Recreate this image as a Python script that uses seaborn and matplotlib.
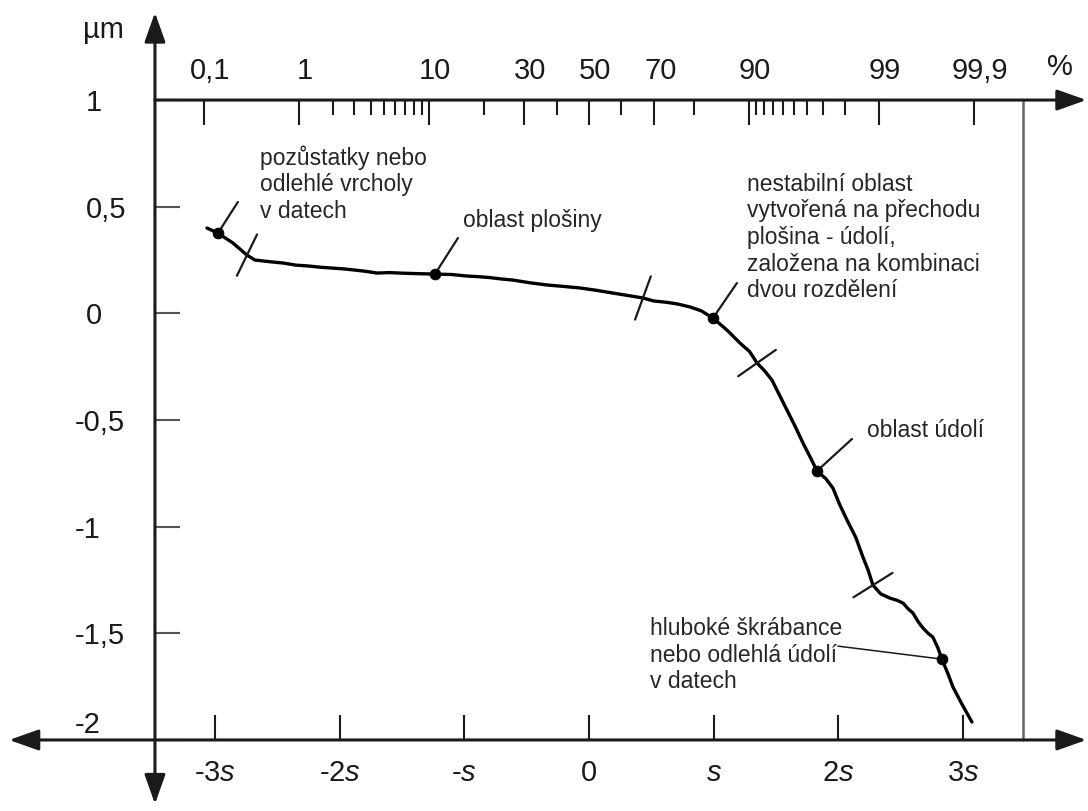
import numpy as np
import matplotlib
matplotlib.use("Agg")
import matplotlib.pyplot as plt
import matplotlib.transforms as mtransforms
import seaborn as sns
from statistics import NormalDist

# Křivka materiálového podílu: x v násobcích s, y v µm
krivka_x = [-3.064, -2.976, -2.856, -2.743, -2.679, -2.560, -2.454, -2.350, -2.250, -2.150,
            -2.053, -1.960, -1.880, -1.790, -1.700, -1.600, -1.480, -1.360, -1.235, -1.100,
            -0.979, -0.890, -0.800, -0.700, -0.610, -0.470, -0.337, -0.200, -0.072, 0.060,
            0.193, 0.320, 0.433, 0.520, 0.620, 0.710, 0.810, 0.900, 0.995, 1.110,
            1.211, 1.290, 1.348, 1.410, 1.468, 1.530, 1.588, 1.650, 1.717, 1.780,
            1.829, 1.900, 1.957, 2.010, 2.070, 2.140, 2.198, 2.240, 2.278, 2.340,
            2.414, 2.470, 2.519, 2.560, 2.599, 2.640, 2.679, 2.720, 2.759, 2.800,
            2.831, 2.880, 2.920, 2.990, 3.072]
krivka_y = [0.400, 0.376, 0.330, 0.273, 0.250, 0.242, 0.236, 0.226, 0.222, 0.216,
            0.212, 0.208, 0.203, 0.197, 0.189, 0.191, 0.188, 0.186, 0.184, 0.182,
            0.175, 0.172, 0.168, 0.161, 0.156, 0.143, 0.133, 0.126, 0.119, 0.108,
            0.095, 0.083, 0.072, 0.058, 0.052, 0.044, 0.030, 0.012, -0.022, -0.080,
            -0.139, -0.180, -0.233, -0.270, -0.313, -0.385, -0.453, -0.525, -0.608, -0.680,
            -0.739, -0.775, -0.819, -0.895, -0.969, -1.050, -1.143, -1.205, -1.274, -1.315,
            -1.335, -1.345, -1.358, -1.385, -1.405, -1.445, -1.475, -1.500, -1.518, -1.570,
            -1.621, -1.690, -1.752, -1.830, -1.916]

# Vyznačené body na křivce
body_x = [-2.976, -1.235, 0.995, 1.829, 2.831]
body_y = [0.376, 0.184, -0.022, -0.739, -1.621]

# Hranice oblastí (krátké příčné čárky)
hranice_x = [-2.743, 0.433, 1.348, 2.278]
hranice_uhel = [64, 70, 35, 32]

# Popisky (y = účaří posledního řádku) a konce odkazových čar
popisky = ["pozůstatky nebo\nodlehlé vrcholy\nv datech",
           "oblast plošiny",
           "nestabilní oblast\nvytvořená na přechodu\nplošina - údolí,\nzaložena na kombinaci\ndvou rozdělení",
           "oblast údolí",
           "hluboké škrábance\nnebo odlehlá údolí\nv datech"]
popisky_x = [-2.639, -1.011, 1.267, 2.230, 0.489]
popisky_y = [0.447, 0.405, 0.076, -0.580, -1.757]
odkaz_x = [-2.816, -1.051, 1.187, 2.110, 1.997]
odkaz_y = [0.522, 0.353, 0.142, -0.589, -1.560]

# Osy
y_ticks = [1, 0.5, 0, -0.5, -1, -1.5, -2]
y_labels = ["1", "0,5", "0", "-0,5", "-1", "-1,5", "-2"]
x_ticks = [-3, -2, -1, 0, 1, 2, 3]
x_labels = ["-3$s$", "-2$s$", "-$s$", "0", "$s$", "2$s$", "3$s$"]
pct_major = [0.1, 1, 10, 30, 50, 70, 90, 99, 99.9]
pct_labels = ["0,1", "1", "10", "30", "50", "70", "90", "99", "99,9"]
pct_minor = [2, 3, 4, 5, 6, 7, 8, 9, 20, 40, 60, 80, 91, 92, 93, 94, 95, 96, 97, 98]

sns.set_theme(style="ticks")
plt.rcParams["font.family"] = ["Liberation Sans", "DejaVu Sans"]
plt.rcParams["mathtext.fontset"] = "custom"
plt.rcParams["mathtext.rm"] = "Liberation Sans"
plt.rcParams["mathtext.it"] = "Liberation Sans:italic"

barva = "#1a1a1a"
vel = 21
fig = plt.figure(figsize=(10.88, 8.11), dpi=100)
ax = fig.add_axes([0, 0, 1, 1])
ax.set_xlim(-4.724, 4.003)
ax.set_ylim(-2.333, 1.469)
for s in ax.spines.values():
    s.set_visible(False)

x_osa = -3.481
ax.spines["left"].set_position(("data", x_osa))
ax.spines["bottom"].set_position(("data", -2))

ax.set_xticks(x_ticks)
ax.set_xticklabels(x_labels)
ax.set_yticks(y_ticks)
ax.set_yticklabels(y_labels)
ax.tick_params(axis="x", direction="in", length=18, width=1.5, color=barva,
               labelsize=vel, labelcolor=barva, pad=14, top=False, bottom=True)
ax.tick_params(axis="y", direction="in", length=18, width=1.5, color="#555555",
               labelsize=vel, labelcolor=barva, pad=50, left=True, right=False)
for lab, txt in zip(ax.get_yticklabels(), y_labels):
    lab.set_horizontalalignment("left")
    dx = -0.11 if txt.startswith("-") else 0.0
    dy = 0.18 if txt == "-2" else 0.0
    lab.set_transform(lab.get_transform()
                      + mtransforms.ScaledTranslation(dx, dy, fig.dpi_scale_trans))

# horní pravděpodobnostní osa
nd = NormalDist()
ax2 = ax.twiny()
ax2.set_xlim(ax.get_xlim())
for s in ax2.spines.values():
    s.set_visible(False)
ax2.spines["top"].set_position(("data", 1))
ax2.set_xticks([nd.inv_cdf(p / 100) for p in pct_major])
ax2.set_xticklabels(pct_labels)
ax2.set_xticks([nd.inv_cdf(p / 100) for p in pct_minor], minor=True)
ax2.tick_params(axis="x", which="major", direction="in", length=18, width=1.5,
                color=barva, labelsize=vel, labelcolor=barva, pad=11)
ax2.tick_params(axis="x", which="minor", direction="in", length=11, width=1.5, color=barva)
ax2.tick_params(axis="y", left=False, right=False, labelleft=False, labelright=False)
for lab in ax2.get_xticklabels():
    lab.set_transform(lab.get_transform()
                      + mtransforms.ScaledTranslation(0.06, 0, fig.dpi_scale_trans))

# čáry os se šipkami
sipka_styl = dict(color=barva, lw=2.2, shrinkA=0, shrinkB=0, mutation_scale=20)
ax.annotate("", xy=(3.99, -2), xytext=(-4.65, -2), annotation_clip=False,
            arrowprops=dict(arrowstyle="<|-|>,head_length=0.9,head_width=0.32", **sipka_styl))
ax.annotate("", xy=(x_osa, 1.41), xytext=(x_osa, -2.30), annotation_clip=False,
            arrowprops=dict(arrowstyle="<|-|>,head_length=0.9,head_width=0.32", **sipka_styl))
ax.annotate("", xy=(3.99, 1), xytext=(x_osa, 1), annotation_clip=False,
            arrowprops=dict(arrowstyle="-|>,head_length=0.9,head_width=0.32", **sipka_styl))
ax.plot([3.481, 3.481], [-2, 1], color="#666666", lw=1.8)

ax.text(0.095, 0.963, "µm", transform=ax.transAxes, fontsize=vel, color=barva,
        ha="center", va="center")
ax.text(0.974, 0.918, "%", transform=ax.transAxes, fontsize=vel, color=barva,
        ha="center", va="center")

# křivka
sns.lineplot(x=krivka_x, y=krivka_y, sort=False, estimator=None, color="black",
             lw=2.4, ax=ax)

# příčné čárky na hranicích oblastí
for hx, uhel in zip(hranice_x, hranice_uhel):
    hy = np.interp(hx, krivka_x, krivka_y)
    cx, cy = ax.transData.transform((hx, hy))
    dx = 23 * np.cos(np.radians(uhel))
    dy = 23 * np.sin(np.radians(uhel))
    konce = ax.transData.inverted().transform([(cx - dx, cy - dy), (cx + dx, cy + dy)])
    ax.plot(konce[:, 0], konce[:, 1], color=barva, lw=1.6)

# odkazové čáry a body
for bx, by, ox, oy, i in zip(body_x, body_y, odkaz_x, odkaz_y, range(5)):
    ax.plot([bx, ox], [by, oy], color=barva, lw=1.6 if i < 4 else 1.1)
sns.scatterplot(x=body_x, y=body_y, color="black", s=60, edgecolor="black", zorder=5, ax=ax)

for txt, tx, ty in zip(popisky, popisky_x, popisky_y):
    ax.text(tx, ty, txt, fontsize=16.5, color="#262626", ha="left", va="baseline",
            linespacing=1.2)

fig.savefig("out.png", dpi=100)
